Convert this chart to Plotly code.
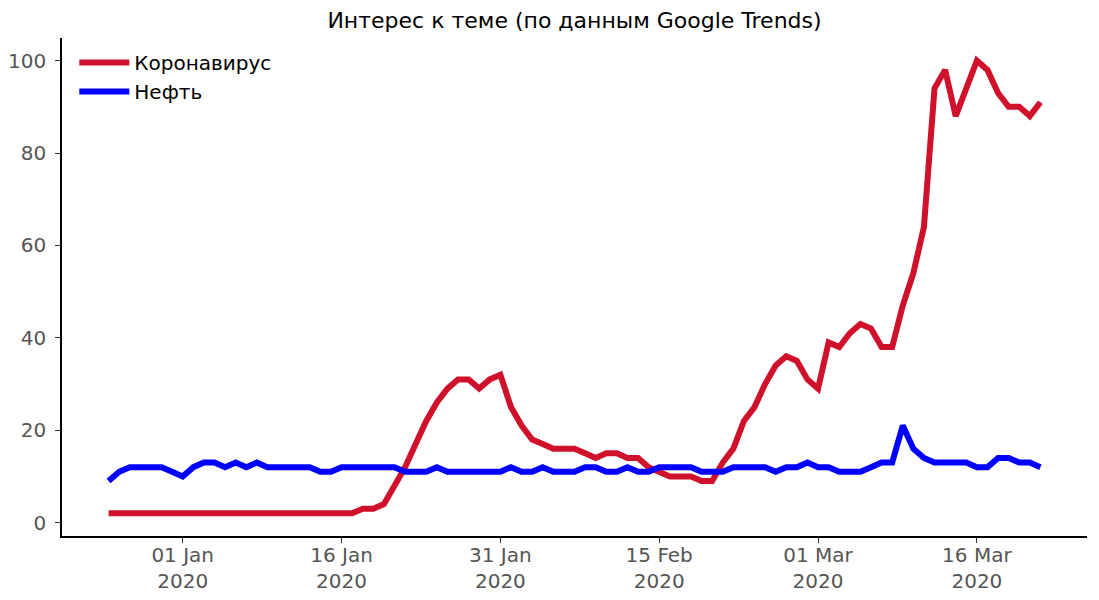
import pandas as pd
import plotly.graph_objects as go

start_date = "2019-12-25"

corona = [2, 2, 2, 2, 2, 2, 2,
          2, 2, 2, 2, 2, 2, 2, 2, 2, 2, 2, 2, 2, 2, 2, 2, 2, 3, 3, 4,
          8, 12, 17, 22, 26, 29, 31, 31, 29, 31, 32,
          25, 21, 18, 17, 16, 16, 16, 15, 14, 15, 15, 14, 14, 12, 11,
          10, 10, 10, 9, 9, 13, 16, 22, 25, 30, 34, 36, 35, 31,
          29, 39, 38, 41, 43, 42, 38, 38, 47, 54, 64, 94, 98, 88, 94,
          100, 98, 93, 90, 90, 88, 91]

oil = [9, 11, 12, 12, 12, 12, 11,
       10, 12, 13, 13, 12, 13, 12, 13, 12, 12, 12, 12, 12, 11, 11, 12,
       12, 12, 12, 12, 12, 11, 11, 11, 12, 11, 11, 11, 11, 11, 11,
       12, 11, 11, 12, 11, 11, 11, 12, 12, 11, 11, 12, 11, 11, 12,
       12, 12, 12, 11, 11, 11, 12, 12, 12, 12, 11, 12, 12, 13,
       12, 12, 11, 11, 11, 12, 13, 13, 21, 16, 14, 13, 13, 13, 13,
       12, 12, 14, 14, 13, 13, 12]

dates = pd.date_range(start_date, periods=len(corona), freq="D")

x_tick_dates = ["2020-01-01", "2020-01-16", "2020-01-31",
                "2020-02-15", "2020-03-01", "2020-03-16"]
x_tick_text = ["01 Jan<br>2020", "16 Jan<br>2020", "31 Jan<br>2020",
               "15 Feb<br>2020", "01 Mar<br>2020", "16 Mar<br>2020"]
y_ticks = [0, 20, 40, 60, 80, 100]

names = ["Коронавирус", "Нефть"]
colors = ["#D0112B", "#0000FF"]
title = "Интерес к теме (по данным Google Trends)"

fig = go.Figure()
for name, vals, col in zip(names, [corona, oil], colors):
    fig.add_trace(go.Scatter(x=dates, y=vals, mode="lines", name=name,
                             line=dict(color=col, width=6)))

# 5% margins like the original
span = (dates[-1] - dates[0])
pad = span * 0.05
ymin, ymax = min(min(corona), min(oil)), max(max(corona), max(oil))
ypad = (ymax - ymin) * 0.05

font_family = "DejaVu Sans"
fig.update_layout(
    width=1099, height=600,
    margin=dict(l=62, r=12, t=38, b=64),
    paper_bgcolor="white", plot_bgcolor="white",
    font=dict(family=font_family, size=20, color="#555555"),
    title=dict(text=title, x=0.5, xref="paper", xanchor="center",
               y=1 - 20 / 600, yref="container", yanchor="middle",
               font=dict(family=font_family, size=22, color="black")),
    legend=dict(x=0.012, y=0.99, xanchor="left", yanchor="top",
                itemwidth=50,
                bgcolor="rgba(0,0,0,0)", borderwidth=0,
                font=dict(family=font_family, size=20, color="black")),
    showlegend=True,
)
fig.update_xaxes(
    range=[dates[0] - pad, dates[-1] + pad],
    tickvals=x_tick_dates, ticktext=x_tick_text,
    showgrid=False, zeroline=False, automargin=False,
    showline=True, linecolor="black", linewidth=1.5,
    ticks="outside", ticklen=5, tickcolor="#333333", tickwidth=1,
    ticklabelstandoff=-5,
    tickfont=dict(size=20, color="#555555"),
)
fig.update_yaxes(
    range=[ymin - ypad, ymax + ypad],
    tickvals=y_ticks,
    showgrid=False, zeroline=False, automargin=False,
    showline=True, linecolor="black", linewidth=1.5,
    ticks="outside", ticklen=5, tickcolor="#333333", tickwidth=1,
    ticklabelstandoff=5,
    tickfont=dict(size=20, color="#555555"),
)

fig.write_html("out.html", config={"displayModeBar": False},
               post_script="document.body.style.margin='0';")
